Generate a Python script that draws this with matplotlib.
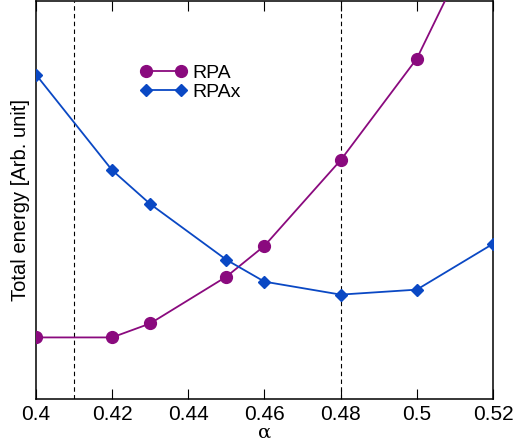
import matplotlib
matplotlib.use("Agg")
import matplotlib.pyplot as plt

plt.rcParams['font.family'] = ['Liberation Sans', 'DejaVu Sans']

alpha = [0.40, 0.42, 0.43, 0.45, 0.46, 0.48, 0.50, 0.52]
rpa = [62, 62, 76, 123, 154, 240, 342, 499]
rpax = [326, 230, 196, 140, 118, 105, 110, 156]
xticks = [0.4, 0.42, 0.44, 0.46, 0.48, 0.5, 0.52]
xticklabels = ['0.4', '0.42', '0.44', '0.46', '0.48', '0.5', '0.52']
vlines = [0.41, 0.48]

purple = '#8a0a7e'
blue = '#0a48c4'

fig = plt.figure(figsize=(5.13, 4.44), dpi=100)
ax = fig.add_axes([0.070, 0.101, 0.891, 0.897])

for v in vlines:
    ax.axvline(v, color='black', linestyle=(0, (4, 3)), linewidth=0.8, zorder=1)

ax.plot(alpha, rpa, color=purple, marker='o', markersize=8.5, linewidth=1.3,
        label='RPA', zorder=3)
ax.plot(alpha, rpax, color=blue, marker='D', markersize=6.5, linewidth=1.3,
        label='RPAx', zorder=3)

ax.set_xlim(0.4, 0.52)
ax.set_ylim(0, 400)
ax.set_xticks(xticks)
ax.set_xticklabels(xticklabels, fontsize=15)
ax.set_yticks([])
ax.tick_params(axis='x', direction='in', top=True, length=7, width=0.8, pad=4)
for s in ax.spines.values():
    s.set_linewidth(1.1)

ax.set_xlabel('α', fontsize=14, family='DejaVu Serif', labelpad=0)
ax.set_ylabel('Total energy [Arb. unit]', fontsize=14.5, labelpad=4)

ax.legend(loc='upper left', bbox_to_anchor=(0.21, 0.86), frameon=False,
          numpoints=2, fontsize=14, handlelength=2.4, handletextpad=0.3,
          labelspacing=0.05, borderaxespad=0)

fig.savefig('out.png', dpi=100)
